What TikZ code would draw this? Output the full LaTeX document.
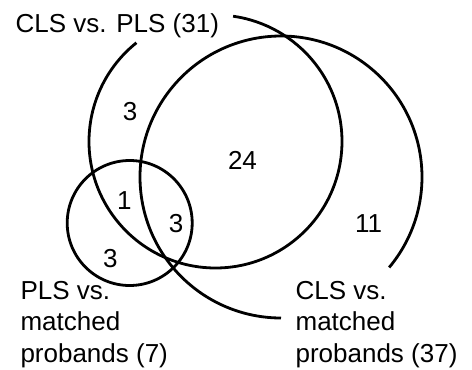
\documentclass[tikz,border=0pt]{standalone}
\usepackage{fontspec}
\setmainfont{Liberation Sans}
\begin{document}
\begin{tikzpicture}[x=1pt,y=1pt,
  ring/.style={line width=2.8pt},
  lbl/.style={inner sep=0pt, anchor=base west, font=\fontsize{26}{31.5}\selectfont},
  num/.style={inner sep=0pt, font=\fontsize{26}{31.5}\selectfont}]
\useasboundingbox (0,0) rectangle (472,-370);
\coordinate (cA) at (215.5,-141.5);
\coordinate (cD) at (281,-177);
\coordinate (cC) at (129.7,-223);
% CLS vs. PLS
\draw[ring] ([shift={(128.7:126.5)}]cA) arc[start angle=128.7,end angle=442,radius=126.5];
% CLS vs. matched probands
\draw[ring] ([shift={(-39.9:141)}]cD) arc[start angle=-39.9,end angle=270,radius=141];
% PLS vs. matched probands
\draw[ring] (cC) circle[radius=62.5];
% counts
\node[num] (n1) at (130,-111.7) {3};
\node[num] (n2) at (242.5,-160.5) {24};
\node[num] (n3) at (124.3,-200.5) {1};
\node[num] (n4) at (176,-223.3) {3};
\node[num] (n5) at (110.3,-258.7) {3};
\node[num] (n6) at (368.7,-223.3) {11};
% labels
\node[lbl] (lA) at (15.5,-32) {CLS vs. PLS (31)};
\node[lbl] (lC) at (20.3,-299) {\vtop{\hbox{PLS vs.}\hbox{matched}\hbox{probands (7)}}};
\node[lbl] (lD) at (295.4,-299) {\vtop{\hbox{CLS vs.}\hbox{matched}\hbox{probands (37)}}};
\end{tikzpicture}
\end{document}
